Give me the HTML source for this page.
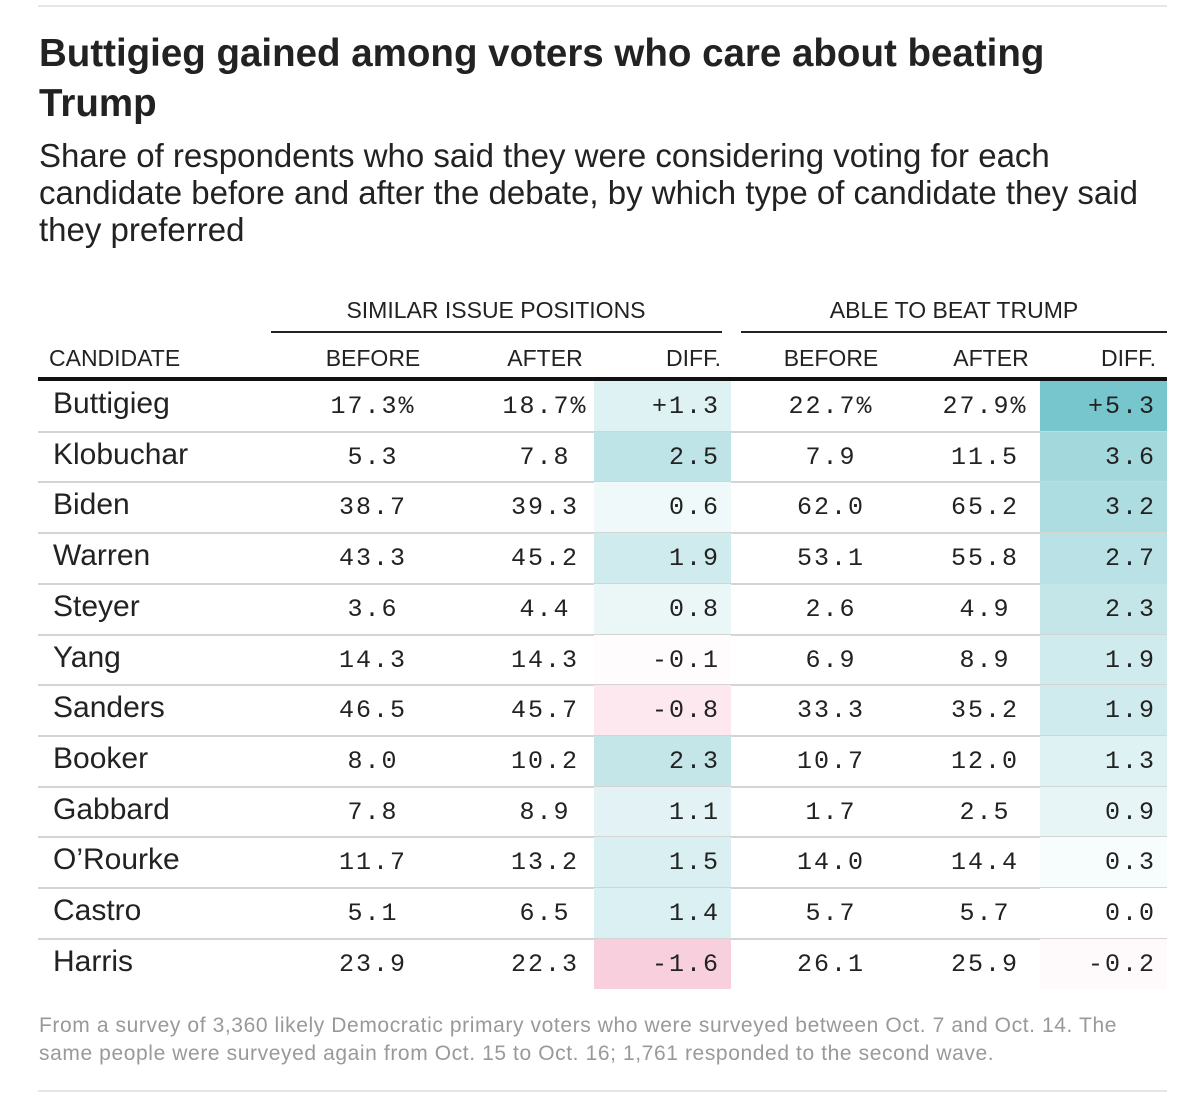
<!DOCTYPE html>
<html><head><meta charset="utf-8">
<style>
body{margin:0;background:#fff;width:1200px;height:1102px;position:relative;overflow:hidden;font-family:"Liberation Sans",sans-serif;color:#222}
.abs{position:absolute;white-space:nowrap}
.num{font-family:"Liberation Mono",monospace;font-size:25px;letter-spacing:2px;color:#222}
.hd{font-size:23px;color:#222}
</style></head><body>
<div class="abs" style="left:38px;top:5px;width:1129px;height:2px;background:#e6e6e6"></div>
<div class="abs" style="left:39px;top:29px;font-size:38.5px;font-weight:bold;line-height:50px;color:#222">Buttigieg gained among voters who care about beating<br>Trump</div>
<div class="abs" style="left:39px;top:137px;font-size:33px;line-height:37px;color:#222">Share of respondents who said they were considering voting for each<br>candidate before and after the debate, by which type of candidate they said<br>they preferred</div>

<div class="abs hd" style="left:271px;width:450px;text-align:center;top:297px">SIMILAR ISSUE POSITIONS</div>
<div class="abs" style="left:271px;top:331px;width:451px;height:2px;background:#222"></div>
<div class="abs hd" style="left:741px;width:426px;text-align:center;top:297px">ABLE TO BEAT TRUMP</div>
<div class="abs" style="left:741px;top:331px;width:426px;height:2px;background:#222"></div>

<div class="abs hd" style="left:49px;top:345px">CANDIDATE</div>
<div class="abs hd" style="left:300px;width:146px;text-align:center;top:345px">BEFORE</div>
<div class="abs hd" style="left:472px;width:146px;text-align:center;top:345px">AFTER</div>
<div class="abs hd" style="left:594px;width:127px;text-align:right;top:345px">DIFF.</div>
<div class="abs hd" style="left:758px;width:146px;text-align:center;top:345px">BEFORE</div>
<div class="abs hd" style="left:918px;width:146px;text-align:center;top:345px">AFTER</div>
<div class="abs hd" style="left:1040px;width:116px;text-align:right;top:345px">DIFF.</div>
<div class="abs" style="left:38px;top:377px;width:1129px;height:4px;background:#111"></div>

<div id="rows"></div>

<div class="abs" style="left:39px;top:1012px;font-size:21px;letter-spacing:0.6px;line-height:28px;color:#999">From a survey of 3,360 likely Democratic primary voters who were surveyed between Oct. 7 and Oct. 14. The<br>same people were surveyed again from Oct. 15 to Oct. 16; 1,761 responded to the second wave.</div>
<div class="abs" style="left:38px;top:1090px;width:1129px;height:2px;background:#e6e6e6"></div>

<script>
const candidates=["Buttigieg","Klobuchar","Biden","Warren","Steyer","Yang","Sanders","Booker","Gabbard","O\u2019Rourke","Castro","Harris"];
const simBefore=[17.3,5.3,38.7,43.3,3.6,14.3,46.5,8.0,7.8,11.7,5.1,23.9];
const simAfter=[18.7,7.8,39.3,45.2,4.4,14.3,45.7,10.2,8.9,13.2,6.5,22.3];
const simDiff=[1.3,2.5,0.6,1.9,0.8,-0.1,-0.8,2.3,1.1,1.5,1.4,-1.6];
const beatBefore=[22.7,7.9,62.0,53.1,2.6,6.9,33.3,10.7,1.7,14.0,5.7,26.1];
const beatAfter=[27.9,11.5,65.2,55.8,4.9,8.9,35.2,12.0,2.5,14.4,5.7,25.9];
const beatDiff=[5.3,3.6,3.2,2.7,2.3,1.9,1.9,1.3,0.9,0.3,0.0,-0.2];

const rowTop=381,rowH=50.7;
function yRow(i){return rowTop+i*rowH;}
function color(v){
  function mix(a,b,t){return Math.round(a+(b-a)*t);}
  if(v>=0){const t=Math.min(v/5.3,1);return `rgb(${mix(255,120,t)},${mix(255,198,t)},${mix(255,205,t)})`;}
  const t=Math.min(-v/1.6,1);return `rgb(${mix(255,248,t)},${mix(255,208,t)},${mix(255,221,t)})`;
}
function fmt(v,i,sign){let s=v.toFixed(1);if(sign&&v>0&&i===0)s="+"+s;return s;}
const root=document.getElementById('rows');
function add(html){root.insertAdjacentHTML('beforeend',html);return root.lastElementChild;}
candidates.forEach((c,i)=>{
  const y=yRow(i);
  let el;
  if(i>0){el=add(`<div class="abs" style="left:38px;top:${y-1}px;width:1129px;height:2px;background:#d4d4d4"></div>`);
    
    }
  el=add(`<div class="abs" style="left:594px;top:${y}px;width:137px;height:${rowH}px;background:${color(simDiff[i])}"></div>`);
  
  
  el=add(`<div class="abs" style="left:1040px;top:${y}px;width:127px;height:${rowH}px;background:${color(beatDiff[i])}"></div>`);
  
  
  el=add(`<div class="abs" style="left:53px;top:${y+6}px;font-size:30px;color:#222">${c}</div>`);
  
  
  const cells=[[simBefore[i],300,146,'center','before-similar',false],[simAfter[i],472,146,'center','after-similar',false],[simDiff[i],594,126,'right','diff-similar',true],
               [beatBefore[i],758,146,'center','before-beat',false],[beatAfter[i],912,146,'center','after-beat',false],[beatDiff[i],1040,116,'right','diff-beat',true]];
  cells.forEach(([v,x,w,al,nm,sg])=>{
    let s=fmt(v,i,sg);
    if(!sg&&i===0)s+="%";
    el=add(`<div class="abs num" style="left:${x}px;width:${w}px;text-align:${al};top:${y+11}px">${s}</div>`);
    
    
  });
});
</script>
</body></html>
